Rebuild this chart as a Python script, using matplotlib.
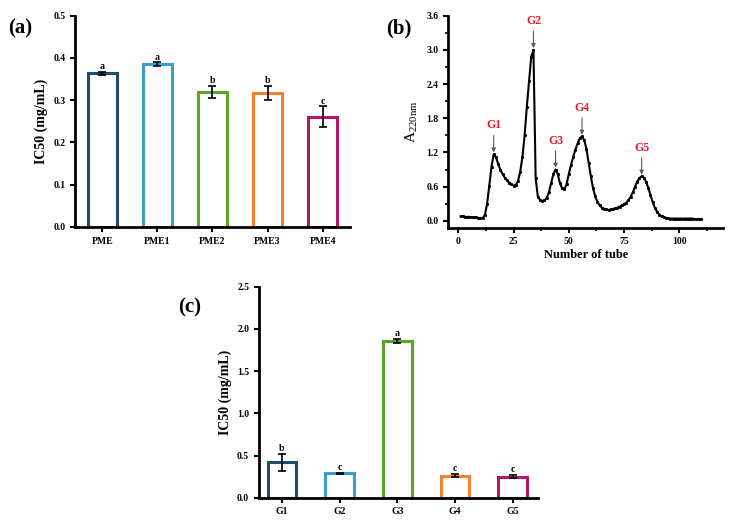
import numpy as np
import matplotlib.pyplot as plt

plt.rcParams['font.family'] = ['Liberation Serif', 'DejaVu Serif']
plt.rcParams['font.weight'] = 'bold'

# (a) IC50 of PME fractions
pme_names = ["PME", "PME1", "PME2", "PME3", "PME4"]
pme_ic50 = [0.363, 0.385, 0.319, 0.317, 0.261]
pme_err = [0.004, 0.004, 0.014, 0.017, 0.024]
pme_sig = ["a", "a", "b", "b", "c"]

# (b) elution profile, tubes 1..110
tube = list(range(1, 111))
a220 = [
    0.08, 0.08, 0.07, 0.07, 0.07, 0.06, 0.06, 0.06, 0.05, 0.05,
    0.05, 0.10, 0.30, 0.62, 0.95, 1.17, 1.12, 1.00, 0.90, 0.82,
    0.76, 0.71, 0.67, 0.64, 0.62, 0.63, 0.70, 0.86, 1.12, 1.50,
    2.00, 2.45, 2.88, 3.00, 0.75, 0.42, 0.37, 0.35, 0.36, 0.40,
    0.50, 0.66, 0.82, 0.90, 0.82, 0.66, 0.57, 0.55, 0.64, 0.82,
    0.98, 1.12, 1.25, 1.36, 1.45, 1.48, 1.42, 1.26, 1.02, 0.78,
    0.57, 0.43, 0.33, 0.27, 0.23, 0.21, 0.20, 0.19, 0.20, 0.21,
    0.22, 0.23, 0.25, 0.27, 0.29, 0.32, 0.36, 0.42, 0.50, 0.60,
    0.69, 0.75, 0.78, 0.76, 0.69, 0.58, 0.45, 0.33, 0.23, 0.16,
    0.11, 0.08, 0.06, 0.05, 0.05, 0.04, 0.04, 0.04, 0.04, 0.04,
    0.04, 0.04, 0.04, 0.04, 0.04, 0.04, 0.03, 0.03, 0.03, 0.03,
]
peak_names = ["G1", "G2", "G3", "G4", "G5"]
peak_tube = [16, 34, 44, 56, 83]
peak_top = [1.17, 3.00, 0.90, 1.48, 0.78]

# (c) IC50 of G fractions
g_ic50 = [0.42, 0.29, 1.86, 0.26, 0.25]
g_err = [0.10, 0.006, 0.025, 0.02, 0.018]
g_sig = ["b", "c", "a", "c", "c"]

colors = ["#1d4e6b", "#3a9fc8", "#5aa52a", "#f5802e", "#b0186e"]

fig = plt.figure(figsize=(7.33, 5.21), dpi=100)


def bar_panel(ax, names, vals, errs, sig, ymax, step, width, xlim):
    x = np.arange(len(names))
    ax.bar(x, vals, width=width, facecolor="white", edgecolor=colors, linewidth=2.2)
    ax.errorbar(x, vals, yerr=errs, fmt="none", ecolor="black", elinewidth=1.2,
                capsize=3, capthick=1.2)
    for xi, v, e, s in zip(x, vals, errs, sig):
        ax.text(xi, v + e + ymax * 0.004, s, ha="center", va="bottom", fontsize=7,
                fontweight="bold")
    ax.set_xticks(x)
    ax.set_xticklabels(names)
    ax.set_xlim(*xlim)
    ax.set_ylim(0, ymax)
    ax.set_yticks(np.arange(0, ymax + step / 2, step))
    ax.yaxis.set_major_formatter(plt.FormatStrFormatter("%.1f"))
    ax.set_ylabel("IC50 (mg/mL)", fontsize=10, fontweight="bold")
    for sp in ["top", "right"]:
        ax.spines[sp].set_visible(False)
    for sp in ["left", "bottom"]:
        ax.spines[sp].set_linewidth(2)
    ax.tick_params(width=1.5, length=3.5, labelsize=7)


ax1 = fig.add_axes([0.1023, 0.5643, 0.3752, 0.4059])
bar_panel(ax1, pme_names, pme_ic50, pme_err, pme_sig, 0.5, 0.1, 0.53, (-0.5, 4.5))

ax3 = fig.add_axes([0.3533, 0.0447, 0.3807, 0.4050])
bar_panel(ax3, peak_names, g_ic50, g_err, g_sig, 2.5, 0.5, 0.5, (-0.4, 4.44))

# (b)
ax2 = fig.add_axes([0.6112, 0.5630, 0.3756, 0.4069])
ax2.plot(tube, a220, color="black", linewidth=1.5, marker="s", markersize=1.1)
ax2.set_xlim(-4.7, 120)
ax2.set_ylim(-0.12, 3.6)
ax2.set_xticks([0, 25, 50, 75, 100])
ax2.set_xticks(np.arange(12.5, 120, 25), minor=True)
ax2.set_yticks(np.arange(0, 3.61, 0.6))
ax2.set_yticks(np.arange(0.3, 3.6, 0.6), minor=True)
ax2.yaxis.set_major_formatter(plt.FormatStrFormatter("%.1f"))
for sp in ["top", "right"]:
    ax2.spines[sp].set_visible(False)
for sp in ["left", "bottom"]:
    ax2.spines[sp].set_linewidth(2)
ax2.tick_params(width=1.5, length=3.5, labelsize=7)
ax2.tick_params(which="minor", width=1.2, length=2)
ax2.set_xlabel("Number of tube", fontsize=9, fontweight="bold", labelpad=2)
ax2.set_ylabel("A$_{\\mathregular{220nm}}$", fontsize=11, fontweight="normal")
for name, t, top in zip(peak_names, peak_tube, peak_top):
    ax2.annotate(name, xy=(t, top + 0.03), xytext=(t, top + 0.4),
                 ha="center", va="bottom", color="#e8192c", fontsize=8.5,
                 fontweight="bold",
                 arrowprops=dict(arrowstyle="-|>", color="0.35", lw=0.8,
                                 mutation_scale=6, shrinkA=1, shrinkB=0))

fig.text(0.011, 0.945, "(a)", fontsize=15, fontweight="bold", va="center")
fig.text(0.527, 0.945, "(b)", fontsize=15, fontweight="bold", va="center")
fig.text(0.243, 0.41, "(c)", fontsize=15, fontweight="bold", va="center")

fig.savefig("out.png", dpi=100)
